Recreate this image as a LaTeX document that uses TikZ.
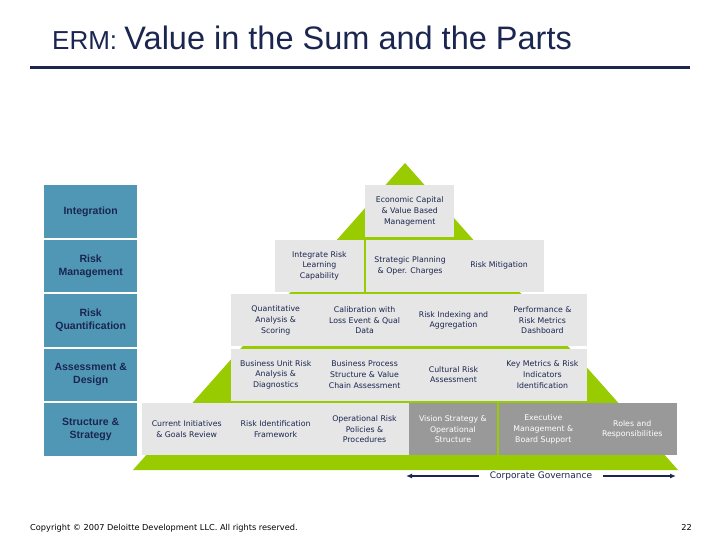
\documentclass[tikz,border=0pt]{standalone}
\usepackage{fontspec}
\setmainfont{Liberation Sans}
\newfontfamily\cellfont{DejaVu Sans}
\usepackage{tikz}
\usetikzlibrary{arrows.meta,positioning}
\definecolor{navy}{HTML}{1A2650}
\definecolor{steel}{HTML}{5097B5}
\definecolor{lime}{HTML}{99CC00}
\definecolor{mist}{HTML}{E6E6E6}
\definecolor{ash}{HTML}{999999}

\begin{document}
\begin{tikzpicture}[
  x=1pt, y=-1pt,
  node distance=0pt and -0.5pt,
  font=\cellfont\fontsize{7.8}{10.7}\selectfont,
  cell/.style={fill=mist, text=navy, minimum width=89pt, minimum height=52pt, inner sep=0pt, align=center, anchor=north west},
  darkcell/.style={cell, fill=ash, text=white},
  level/.style={fill=steel, text=navy, minimum width=93pt, minimum height=52.5pt, inner sep=0pt, align=center, anchor=north west, font=\rmfamily\bfseries\fontsize{10.5}{13}\selectfont},
  arrow/.style={-{Latex[length=6pt,width=5pt]}, line width=2pt, draw=navy}
]
  \useasboundingbox[fill=white] (0,0) rectangle (720,540);

  \node[anchor=base west, text=navy, inner sep=0pt, font=\rmfamily] (title) at (52,50)
    {\fontsize{26}{30}\selectfont ERM: \fontsize{32.5}{38}\selectfont Value in the Sum and the Parts};
  \draw[navy, line width=3pt] (30,68) -- (690,68);

  \coordinate (apex) at (405,163);
  \coordinate (baseL) at (133,470);
  \coordinate (baseR) at (678,470);
  \fill[lime] (apex) -- (baseL) -- (baseR) -- cycle;

  \node[level] (integ) at (44,185) {Integration};
  \node[level] (riskmgmt) at (44,239.5) {Risk\\Management};
  \node[level] (riskquant) at (44,294) {Risk\\Quantification};
  \node[level] (assess) at (44,348.5) {Assessment \&\\Design};
  \node[level] (struct) at (44,403) {Structure \&\\Strategy};

  \node[cell] (econ) at (365,185) {Economic Capital\\\& Value Based\\Management};

  \node[cell, minimum width=88.5pt] (learn) at (275,239.5) {Integrate Risk\\Learning\\Capability};
  \node[cell, right=1.5pt of learn] (plan) {Strategic Planning\\\& Oper. Charges};
  \node[cell, right=of plan] (mitig) {Risk Mitigation};

  \node[cell] (quant) at (231,294) {Quantitative\\Analysis \&\\Scoring};
  \node[cell, right=of quant] (calib) {Calibration with\\Loss Event \& Qual\\Data};
  \node[cell, right=of calib] (index) {Risk Indexing and\\Aggregation};
  \node[cell, right=of index] (perf) {Performance \&\\Risk Metrics\\Dashboard};

  \node[cell] (unit) at (231,348.5) {Business Unit Risk\\Analysis \&\\Diagnostics};
  \node[cell, right=of unit] (process) {Business Process\\Structure \& Value\\Chain Assessment};
  \node[cell, right=of process] (culture) {Cultural Risk\\Assessment};
  \node[cell, right=of culture] (metrics) {Key Metrics \& Risk\\Indicators\\Identification};

  \node[cell] (initiatives) at (142,403) {Current Initiatives\\\& Goals Review};
  \node[cell, right=of initiatives] (identif) {Risk Identification\\Framework};
  \node[cell, right=of identif] (policies) {Operational Risk\\Policies \&\\Procedures};
  \node[darkcell, minimum width=88pt, right=of policies] (vision) {Vision Strategy \&\\Operational\\Structure};
  \node[darkcell, right=1.5pt of vision] (exec) {Executive\\Management \&\\Board Support};
  \node[darkcell, right=of exec] (roles) {Roles and\\Responsibilities};

  \node[font=\cellfont\fontsize{9}{11}\selectfont, text=navy, inner xsep=11pt] (gov) at (541,476) {Corporate Governance};
  \coordinate (govL) at (406,476);
  \coordinate (govR) at (676,476);
  \draw[arrow] (gov.west) -- (govL);
  \draw[arrow] (gov.east) -- (govR);

  \node[anchor=base west, inner sep=0pt, font=\cellfont\fontsize{8.2}{10}\selectfont] (copy) at (30,530) {Copyright \textcopyright\ 2007 Deloitte Development LLC. All rights reserved.};
  \node[anchor=base east, inner sep=0pt, font=\cellfont\fontsize{8.2}{10}\selectfont] (page) at (692,530) {22};
\end{tikzpicture}
\end{document}
